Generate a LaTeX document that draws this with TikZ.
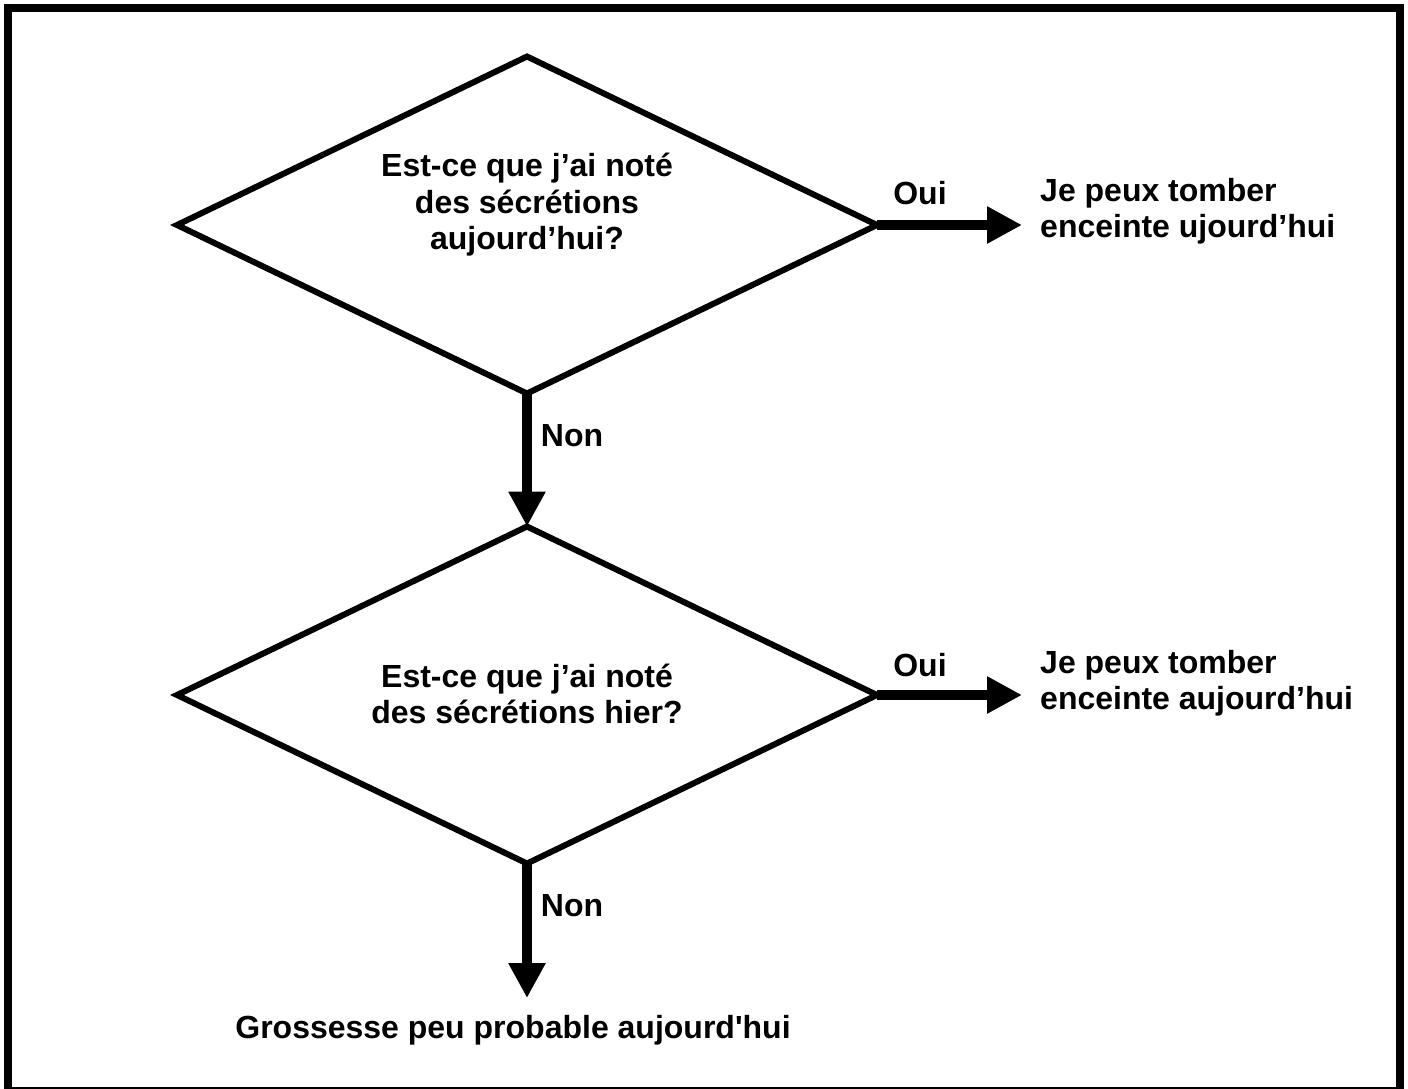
\documentclass[tikz,border=0pt]{standalone}
\usepackage{fontspec}
\setmainfont{Liberation Sans}
\usetikzlibrary{shapes.geometric,arrows.meta}
\begin{document}
\begin{tikzpicture}[x=1pt,y=-1pt,
  txt/.style={font=\bfseries\fontsize{32}{36.5}\selectfont, inner sep=0pt},
  decision/.style={draw, line width=6pt, shape=diamond, minimum width=700pt, minimum height=337pt, inner sep=0pt, outer sep=0pt},
  flow/.style={line width=10pt, -{Triangle[width=35pt,length=35pt]}}
]
\useasboundingbox (0,0) rectangle (1408,1088);
\begin{scope}
\clip (0,0) rectangle (1408,1088);
\draw[line width=8pt] (8,8) rectangle (1400,1090.5);
\end{scope}

\node[decision] (d1) at (527,225) {};
\node[decision] (d2) at (527,695) {};

\node[txt, align=center] (q1) at (527,205) {Est-ce que j’ai noté\\des sécrétions\\aujourd’hui?};
\node[txt, align=center] (q2) at (527,694) {Est-ce que j’ai noté\\des sécrétions hier?};

\coordinate (t1) at (1022,225);
\coordinate (t2) at (1022,695);
\coordinate (t3) at (527,998);

\draw[flow] (d1.east) -- (t1);
\draw[flow] (d2.east) -- (t2);
\draw[flow] (d1.south) -- (d2.north);
\draw[flow] (d2.south) -- (t3);

\node[txt] (oui1) at (920,193) {Oui};
\node[txt] (oui2) at (920,665) {Oui};
\node[txt] (non1) at (572,436) {Non};
\node[txt] (non2) at (572,906) {Non};

\node[txt, align=left, anchor=west] (r1) at (1040,211) {Je peux tomber\\enceinte ujourd’hui};
\node[txt, align=left, anchor=west] (r2) at (1040,683) {Je peux tomber\\enceinte aujourd’hui};
\node[txt] (r3) at (513,1030) {Grossesse peu probable aujourd\textquotesingle hui};
\end{tikzpicture}
\end{document}
